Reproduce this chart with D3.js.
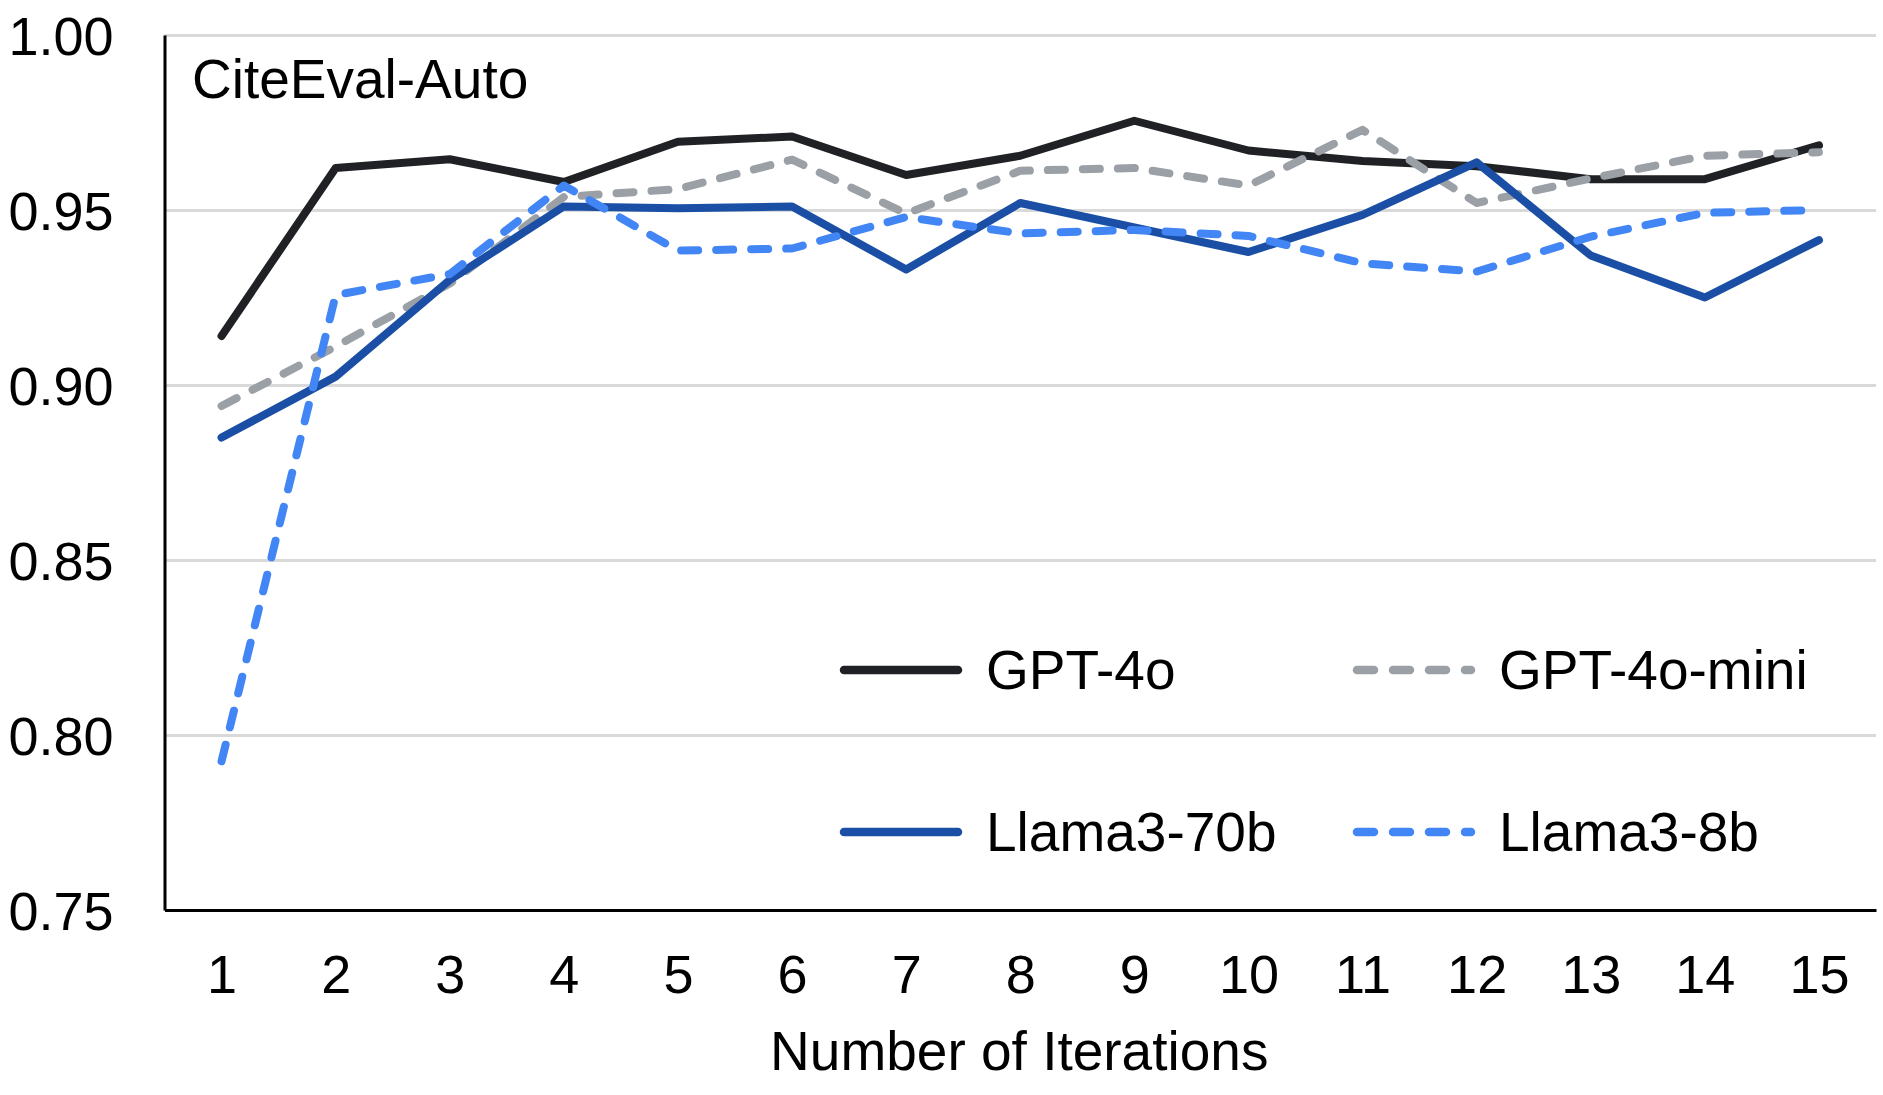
<!DOCTYPE html>
<html>
<head>
<meta charset="utf-8">
<script src="https://cdn.jsdelivr.net/npm/d3@7"></script>
<style>
  body { margin: 0; background: #fff; }
  text { font-family: "Liberation Sans", Arial, Helvetica, sans-serif; fill: #000; }
</style>
</head>
<body>
<script>

	// iterations on the x axis
	var iterations = [1, 2, 3, 4, 5, 6, 7, 8, 9, 10, 11, 12, 13, 14, 15];
	var yTicks = [0.75, 0.80, 0.85, 0.90, 0.95, 1.00];

	// values
	var gpt4o     = [0.914, 0.962, 0.9645, 0.958, 0.9695, 0.971, 0.960, 0.9655, 0.9755, 0.967, 0.964, 0.9625, 0.9588, 0.9588, 0.9685];
	var gpt4oMini = [0.894, 0.911, 0.929, 0.9537, 0.956, 0.9644, 0.949, 0.9612, 0.962, 0.957, 0.9729, 0.952, 0.959, 0.9655, 0.9665];
	var llama70b  = [0.885, 0.9024, 0.930, 0.951, 0.9505, 0.951, 0.933, 0.952, 0.945, 0.938, 0.9486, 0.9636, 0.937, 0.925, 0.9414];
	var llama8b   = [0.7925, 0.9257, 0.9317, 0.957, 0.9384, 0.939, 0.948, 0.9433, 0.9443, 0.9426, 0.9348, 0.9324, 0.9424, 0.9492, 0.95];

	var seriesNames = ["GPT-4o", "GPT-4o-mini", "Llama3-70b", "Llama3-8b"];
	var seriesValues = [gpt4o, gpt4oMini, llama70b, llama8b];
	var seriesColors = ["#202124", "#9aa0a6", "#1a4fa5", "#4285f4"];
	var seriesDash = [null, "17,18", null, "17,18"];

	var width = 1883,
	    height = 1095;
	// plot area (note: "top" is a reserved window property, so use a margin object)
	var plot = {left: 164.5, right: 1876, top: 35, bottom: 910};

	var svg = d3.select("body")
	    .append("svg")
	    .attr("width", width)
	    .attr("height", height);

	svg.append("rect").attr("width", width).attr("height", height).attr("fill", "#fff");

	var x = d3.scalePoint()
	    .domain(iterations)
	    .range([plot.left, plot.right])
	    .padding(0.5);

	var y = d3.scaleLinear()
	    .domain([0.75, 1.00])
	    .range([plot.bottom, plot.top]);

	// gridlines
	var grid = svg.append("g")
	    .attr("transform", "translate(" + plot.left + ",0)")
	    .call(d3.axisLeft(y).tickValues(yTicks.slice(1)).tickSize(-(plot.right - plot.left)).tickFormat(""));
	grid.select(".domain").remove();
	grid.selectAll("line").attr("stroke", "#d9d9d9").attr("stroke-width", 3);

	// y axis
	var yAxis = svg.append("g")
	    .attr("transform", "translate(" + plot.left + ",0)")
	    .call(d3.axisLeft(y).tickValues(yTicks).tickSize(0).tickSizeOuter(0).tickPadding(51).tickFormat(d3.format(".2f")));
	yAxis.select(".domain").attr("stroke", "#000").attr("stroke-width", 3);
	yAxis.selectAll("text")
	    .attr("font-size", 54)
	    .attr("font-family", "Liberation Sans, Arial, sans-serif")
	    .attr("dy", "0.36em");

	// x axis
	var xAxis = svg.append("g")
	    .attr("transform", "translate(0," + plot.bottom + ")")
	    .call(d3.axisBottom(x).tickSize(0).tickSizeOuter(0));
	xAxis.select(".domain").attr("stroke", "#000").attr("stroke-width", 3);
	xAxis.selectAll("text")
	    .attr("font-size", 54)
	    .attr("font-family", "Liberation Sans, Arial, sans-serif")
	    .attr("y", 83)
	    .attr("dy", null);

	svg.append("text")
	    .attr("x", (plot.left + plot.right) / 2 - 1)
	    .attr("y", 1070)
	    .attr("text-anchor", "middle")
	    .attr("font-size", 55)
	    .text("Number of Iterations");

	svg.append("text")
	    .attr("x", 192)
	    .attr("y", 98)
	    .attr("font-size", 55)
	    .text("CiteEval-Auto");

	// lines
	var line = d3.line()
	    .x(function(d, i){ return x(iterations[i]); })
	    .y(function(d){ return y(d); });

	svg.append("g").selectAll("path")
	    .data(seriesValues)
	    .enter()
	    .append("path")
	    .attr("d", line)
	    .attr("fill", "none")
	    .attr("stroke", function(d, i){ return seriesColors[i]; })
	    .attr("stroke-width", 8)
	    .attr("stroke-linejoin", "round")
	    .attr("stroke-linecap", "round")
	    .attr("stroke-dasharray", function(d, i){ return seriesDash[i]; });

	// legend, two columns
	var legendX = [840, 1353];
	var legendY = [670, 832];
	var legendDash = [null, "17,19", null, "17,19"];
	var legend = svg.append("g").selectAll("g")
	    .data(seriesNames)
	    .enter()
	    .append("g")
	    .attr("transform", function(d, i){ return "translate(" + legendX[i % 2] + "," + legendY[Math.floor(i / 2)] + ")"; });

	legend.append("line")
	    .attr("x1", 4).attr("x2", 118)
	    .attr("stroke", function(d, i){ return seriesColors[i]; })
	    .attr("stroke-width", 8.5)
	    .attr("stroke-linecap", "round")
	    .attr("stroke-dasharray", function(d, i){ return legendDash[i]; });

	legend.append("text")
	    .attr("x", 146)
	    .attr("y", 19)
	    .attr("font-size", 55)
	    .text(function(d){ return d; });

</script>
</body>
</html>
